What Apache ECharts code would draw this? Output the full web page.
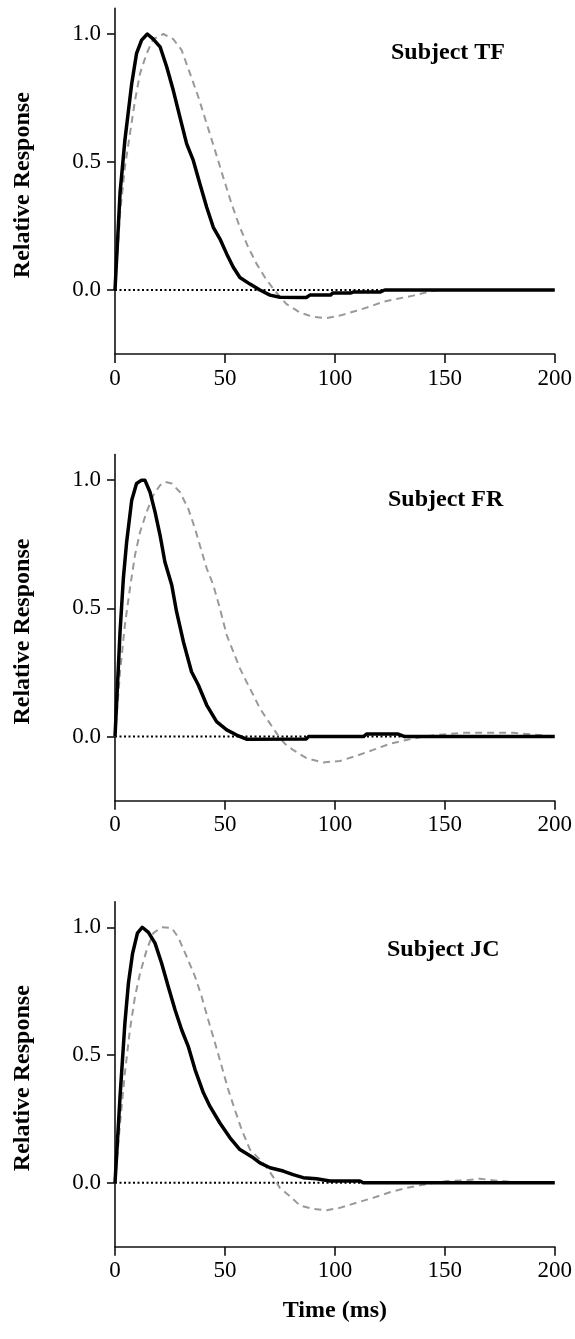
<!DOCTYPE html>
<html>
<head>
<meta charset="utf-8">
<script src="https://cdn.jsdelivr.net/npm/echarts@6/dist/echarts.min.js"></script>
<style>
  html, body { margin: 0; padding: 0; background: #fff; }
  #chart { width: 575px; height: 1339px; }
</style>
</head>
<body>
<div id="chart"></div>
<script>
// ---- Data ----
const subjects = ['Subject TF', 'Subject FR', 'Subject JC'];
const xTicks = [0, 50, 100, 150, 200];
const yTicks = [0, 0.5, 1.0];
const zeroLineT = [0, 200];

// Subject TF
const tfBlackT = [0, 2.3, 4.5, 7.6, 9.8, 12.1, 14.7, 17.4, 20.5, 23.5, 26.5, 29.5, 32.6, 35.6, 38.6, 41.7, 44.7, 47.7, 50.8, 53.8, 56.8, 61.4, 65.9, 70.5, 75, 87, 88.6, 98, 99, 107, 108.3, 120.5, 122.7, 200];
const tfBlackY = [0, 0.38, 0.585, 0.806, 0.924, 0.976, 1.0, 0.98, 0.95, 0.872, 0.78, 0.676, 0.571, 0.506, 0.415, 0.323, 0.245, 0.2, 0.141, 0.089, 0.049, 0.023, 0, -0.02, -0.028, -0.029, -0.02, -0.02, -0.012, -0.012, -0.008, -0.008, 0, 0];
const tfGrayT = [0, 2.3, 4.5, 6.8, 9.1, 11.4, 14.4, 17.4, 22, 26.5, 30.3, 34.1, 37.9, 41.7, 45.5, 49.2, 53, 56.8, 60.6, 64.4, 68.2, 72, 78, 84.1, 90.2, 96.2, 102.3, 109.8, 115.9, 122, 128, 135.6, 141.7, 147, 200];
const tfGrayY = [0, 0.298, 0.48, 0.61, 0.741, 0.846, 0.924, 0.98, 1.0, 0.98, 0.937, 0.846, 0.754, 0.65, 0.545, 0.441, 0.337, 0.245, 0.167, 0.102, 0.049, 0.004, -0.055, -0.088, -0.105, -0.11, -0.1, -0.081, -0.065, -0.046, -0.035, -0.022, -0.009, 0, 0];

// Subject FR
const frBlackT = [0, 2.3, 3.8, 5.3, 7.6, 9.8, 12.1, 13.6, 15.9, 18.2, 20.5, 22.7, 25.8, 28, 31.1, 34.8, 37.9, 41.7, 46.2, 50.8, 55.3, 59.8, 87, 88, 113, 114.4, 128.8, 131.8, 200];
const frBlackY = [0, 0.409, 0.617, 0.759, 0.922, 0.987, 1.0, 1.0, 0.954, 0.876, 0.785, 0.681, 0.591, 0.487, 0.37, 0.253, 0.201, 0.123, 0.058, 0.026, 0.006, -0.01, -0.009, 0, 0, 0.01, 0.01, 0, 0];
const frGrayT = [0, 2.3, 4.5, 6.8, 9.1, 11.4, 14.4, 17.4, 20.5, 22.7, 25.8, 29.5, 33.3, 36.4, 38.6, 41.7, 44.7, 47.7, 50.8, 53.8, 56.8, 59.8, 62.9, 65.9, 68.9, 72, 75, 77.3, 81, 87.1, 94.7, 102.3, 109.8, 117.4, 125, 132.6, 138.6, 146.2, 158.3, 181, 193, 200];
const frGrayY = [0, 0.253, 0.435, 0.578, 0.708, 0.798, 0.876, 0.941, 0.98, 0.993, 0.987, 0.954, 0.889, 0.811, 0.746, 0.656, 0.591, 0.5, 0.396, 0.331, 0.266, 0.214, 0.162, 0.11, 0.071, 0.032, -0.006, -0.028, -0.052, -0.084, -0.101, -0.095, -0.075, -0.052, -0.028, -0.013, -0.003, 0.006, 0.015, 0.015, 0.006, 0];

// Subject JC
const jcBlackT = [0, 2.3, 4.5, 6.1, 8, 10.2, 12.4, 15.2, 18.2, 21.2, 24.2, 27.3, 30.3, 33.3, 36.4, 40.2, 43.2, 47.7, 52.3, 56.8, 62.9, 65.9, 70.5, 76.5, 81, 85.6, 91.7, 97.7, 111.4, 112.9, 200];
const jcBlackY = [0, 0.338, 0.625, 0.781, 0.898, 0.977, 1.0, 0.98, 0.938, 0.859, 0.768, 0.677, 0.599, 0.534, 0.443, 0.352, 0.299, 0.234, 0.176, 0.13, 0.098, 0.078, 0.059, 0.046, 0.032, 0.02, 0.016, 0.007, 0.007, 0, 0];
const jcGrayT = [0, 2.3, 4.5, 6.8, 9.1, 11.4, 14.4, 17.4, 21.2, 25.8, 28.8, 32.6, 36.4, 39.4, 42.4, 45.5, 48.5, 51.5, 54.5, 57.6, 61.4, 65.9, 69.7, 72.7, 75, 79.5, 84.1, 90.2, 96.2, 102.3, 109.8, 117.4, 125, 132.6, 138.6, 143.2, 150.8, 159.8, 165.9, 172, 181, 200];
const jcGrayY = [0, 0.234, 0.43, 0.599, 0.729, 0.82, 0.911, 0.977, 1.0, 0.997, 0.96, 0.885, 0.807, 0.729, 0.638, 0.547, 0.456, 0.365, 0.286, 0.208, 0.13, 0.091, 0.052, 0.013, -0.02, -0.052, -0.089, -0.102, -0.107, -0.098, -0.078, -0.059, -0.037, -0.02, -0.01, -0.003, 0.007, 0.01, 0.016, 0.01, 0.003, 0];

// ---- Build chart ----
const FONT = '"Liberation Serif", "Times New Roman", serif';
const panels = [
  { black: [tfBlackT, tfBlackY], gray: [tfGrayT, tfGrayY], top: 8.4, height: 345.6, titleTop: 36 },
  { black: [frBlackT, frBlackY], gray: [frGrayT, frGrayY], top: 454.5, height: 346.2, titleTop: 483 },
  { black: [jcBlackT, jcBlackY], gray: [jcGrayT, jcGrayY], top: 901.7, height: 345, titleTop: 933 }
];
const titleLeft = [386, 383, 382];

const zip = (t, y) => t.map((v, i) => [v, y[i]]);

const grid = [], xAxis = [], yAxis = [], series = [], title = [];
panels.forEach((p, i) => {
  grid.push({ left: 115, right: 20, top: p.top, height: p.height, containLabel: false });
  title.push({
    text: subjects[i], left: titleLeft[i], top: p.titleTop,
    textStyle: { fontFamily: FONT, fontWeight: 'bold', fontSize: 24, color: '#000' }
  });
  xAxis.push({
    type: 'value', gridIndex: i, min: xTicks[0], max: xTicks[xTicks.length - 1], interval: 50,
    splitLine: { show: false },
    axisLine: { onZero: false, lineStyle: { color: '#111', width: 1.6 } },
    axisTick: { show: true, length: 9, lineStyle: { color: '#111', width: 1.6 } },
    axisLabel: { color: '#000', fontFamily: FONT, fontSize: 23, margin: 13 },
    name: i === 2 ? 'Time (ms)' : '',
    nameLocation: 'middle', nameGap: 52,
    nameTextStyle: { fontFamily: FONT, fontWeight: 'bold', fontSize: 24, color: '#000' }
  });
  yAxis.push({
    type: 'value', gridIndex: i, min: -0.25, max: 1.1,
    splitLine: { show: false },
    axisLine: { onZero: false, lineStyle: { color: '#111', width: 1.6 } },
    axisTick: { show: true, length: 8, customValues: yTicks, lineStyle: { color: '#111', width: 1.6 } },
    axisLabel: { customValues: yTicks, color: '#000', fontFamily: FONT, fontSize: 23, margin: 14,
      formatter: v => v.toFixed(1) },
    name: 'Relative Response',
    nameLocation: 'middle', nameGap: 80, nameRotate: 90,
    nameTextStyle: { fontFamily: FONT, fontWeight: 'bold', fontSize: 24, color: '#000', padding: [0, 8, 0, 0] }
  });
  series.push({
    type: 'line', xAxisIndex: i, yAxisIndex: i, data: zip(zeroLineT, [0, 0]),
    symbol: 'none', silent: true, z: 1,
    lineStyle: { color: '#000', width: 2, type: [2, 2.5] }
  });
  series.push({
    type: 'line', xAxisIndex: i, yAxisIndex: i, data: zip(p.gray[0], p.gray[1]),
    symbol: 'none', z: 2,
    lineStyle: { color: '#999', width: 2, type: [7, 5] }
  });
  series.push({
    type: 'line', xAxisIndex: i, yAxisIndex: i, data: zip(p.black[0], p.black[1]),
    symbol: 'none', z: 3,
    lineStyle: { color: '#000', width: 3.5, join: 'round' }
  });
});

const chart = echarts.init(document.getElementById('chart'), null, { renderer: 'canvas' });
chart.setOption({
  backgroundColor: '#fff',
  animation: false,
  title, grid, xAxis, yAxis, series
});
</script>
</body>
</html>
